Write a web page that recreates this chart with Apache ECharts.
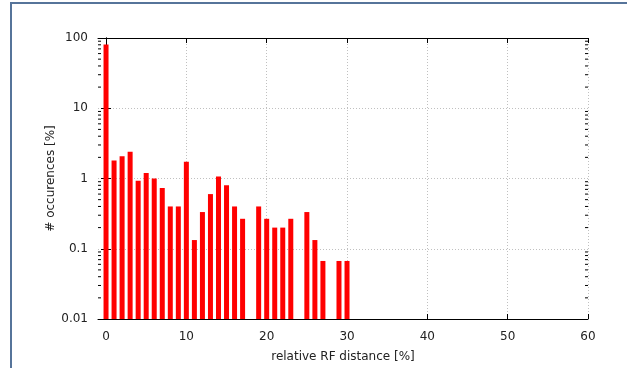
<!DOCTYPE html>
<html>
<head>
<meta charset="utf-8">
<script src="https://cdn.jsdelivr.net/npm/echarts@6/dist/echarts.min.js"></script>
<style>
  html, body { margin: 0; padding: 0; background: #fff; }
  .frame { position: absolute; left: 10px; top: 2px; width: 640px; height: 380px;
           border-top: 2px solid #56749a; border-left: 2px solid #56749a; }
  .chart { position: absolute; left: 0; top: 0; width: 627px; height: 368px; }
</style>
</head>
<body>
<div class="frame"></div>
<div class="chart"></div>
<script>
// relative RF distance [%] and share of occurences [%]
const distances = [0, 1, 2, 3, 4, 5, 6, 7, 8, 9, 10, 11, 12, 13, 14, 15, 16, 17, 19, 20, 21, 22, 23, 25, 26, 27, 29, 30]
const occurrences = [80.8, 1.8, 2.07, 2.4, 0.93, 1.2, 1.0, 0.73, 0.4, 0.4, 1.73, 0.133, 0.333, 0.6, 1.067, 0.8, 0.4, 0.267,
  0.4, 0.267, 0.2, 0.2, 0.267, 0.333, 0.133, 0.067, 0.067, 0.067]
const xTicks = [0, 10, 20, 30, 40, 50, 60]
const yTicks = [0.01, 0.1, 1, 10, 100]
const yMinorTicks = [0.02, 0.03, 0.04, 0.05, 0.06, 0.07, 0.08, 0.09,
  0.2, 0.3, 0.4, 0.5, 0.6, 0.7, 0.8, 0.9,
  2, 3, 4, 5, 6, 7, 8, 9,
  20, 30, 40, 50, 60, 70, 80, 90]

const barData = distances.map(function(d, i) { return [d, occurrences[i]] })
const xMin = -1
const xMax = 60
const yMin = 0.01
const yMax = 100

;(function() {
  let myChart = echarts.init(document.querySelector('.chart'))
  const frameLine = { show: true, lineStyle: { color: '#000', width: 1 } }
  const grid = { lineStyle: { color: '#c0c0c0', type: [1, 2], width: 1 } }
  const font = { color: '#222', fontSize: 12, fontFamily: 'DejaVu Sans' }
  let option = {
    animation: false,
    grid: { left: 98, right: 39, top: 38, bottom: 49, containLabel: false },
    xAxis: [
      {
        type: 'value', min: xMin, max: xMax, position: 'bottom',
        name: 'relative RF distance [%]', nameLocation: 'middle', nameGap: 32,
        nameMoveOverlap: false,
        nameTextStyle: font,
        axisLine: frameLine,
        axisTick: { inside: true, length: 5, customValues: xTicks, lineStyle: { color: '#000' } },
        axisLabel: Object.assign({ customValues: xTicks, margin: 12 }, font),
        splitLine: Object.assign({ show: true }, grid)
      },
      {
        type: 'value', min: xMin, max: xMax, position: 'top',
        axisLine: frameLine,
        axisTick: { inside: true, length: 5, customValues: xTicks, lineStyle: { color: '#000' } },
        axisLabel: { show: false },
        splitLine: { show: false }
      }
    ],
    yAxis: [
      {
        type: 'log', logBase: 10, min: yMin, max: yMax, position: 'left',
        name: '# occurences [%]', nameLocation: 'middle', nameGap: 41, nameRotate: 90,
        nameMoveOverlap: false,
        nameTextStyle: font,
        axisLine: frameLine,
        axisTick: { inside: true, length: 5, customValues: yTicks, lineStyle: { color: '#000' } },
        axisLabel: Object.assign({ customValues: yTicks, margin: 10,
          formatter: function(v) { return String(+v.toPrecision(3)) } }, font),
        splitLine: Object.assign({ show: true }, grid)
      },
      {
        type: 'log', logBase: 10, min: yMin, max: yMax, position: 'right',
        axisLine: frameLine,
        axisTick: { inside: true, length: 5, customValues: yTicks, lineStyle: { color: '#000' } },
        axisLabel: { show: false },
        splitLine: { show: false }
      }
    ],
    series: [
      {
        name: 'occurences',
        type: 'custom',
        xAxisIndex: 0,
        yAxisIndex: 0,
        data: barData,
        // 柱子从坐标轴底部画起（对数轴）
        renderItem: function(params, api) {
          const top = api.coord([api.value(0), api.value(1)])
          const bottom = api.coord([api.value(0), yMin])
          const w = 5
          return {
            type: 'rect',
            shape: { x: top[0] - w / 2, y: top[1], width: w, height: bottom[1] - top[1] },
            style: { fill: '#ff0000' }
          }
        }
      },
      {
        // 对数轴的小刻度（左右两侧）
        name: 'minorTicks',
        type: 'custom',
        xAxisIndex: 0,
        yAxisIndex: 0,
        silent: true,
        z: 5,
        data: yMinorTicks.map(function(v) { return [xMin, v] }),
        renderItem: function(params, api) {
          const left = api.coord([xMin, api.value(1)])
          const right = api.coord([xMax, api.value(1)])
          const len = 3
          const st = { stroke: '#000', lineWidth: 1 }
          return {
            type: 'group',
            children: [
              { type: 'line', shape: { x1: left[0], y1: left[1], x2: left[0] + len, y2: left[1] }, style: st },
              { type: 'line', shape: { x1: right[0], y1: right[1], x2: right[0] - len, y2: right[1] }, style: st }
            ]
          }
        }
      }
    ]
  }
  myChart.setOption(option)
  window.addEventListener('resize', function() {
    myChart.resize()
  })
})()
</script>
</body>
</html>
